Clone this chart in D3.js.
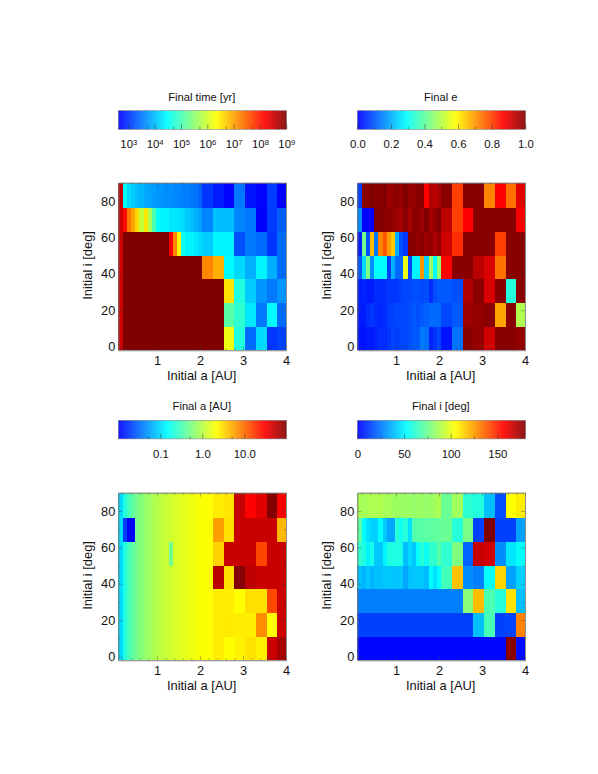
<!DOCTYPE html>
<html>
<head>
<meta charset="utf-8">
<script src="https://cdn.jsdelivr.net/npm/d3@7"></script>
<style>
body { margin: 0; background: #fff; }
text { font-family: "Liberation Sans", Arial, sans-serif; fill: #111; }
</style>
</head>
<body>
<div id="chart"></div>
<script>
// grid of the runs: initial a [AU] and initial i [deg] cell edges
var aEdges = [0.1,0.2,0.3,0.39,0.49,0.59,0.69,0.78,0.88,0.98,1.08,1.17,1.27,1.37,1.47,1.56,1.66,1.76,1.86,1.95,2.05,2.3,2.55,2.8,3.05,3.3,3.55,3.8,4.0];
var iEdges = [90,76,63,50,37,24,11,-2];

// every row runs top (high i) to bottom (low i)
var timeLog = [
  [8.55,4.46,4.2,4.1,4.0,3.95,3.85,3.8,3.75,3.7,3.7,3.65,3.65,3.6,3.6,3.55,3.55,3.5,3.45,3.35,3.0,2.8,2.65,3.5,2.75,2.65,3.05,2.6],
  [8.5,8.1,7.3,7.0,6.6,5.9,6.5,5.7,5.0,4.5,4.4,4.4,4.3,4.3,4.25,4.2,4.1,4.0,3.9,3.8,3.6,4.0,4.0,3.6,3.5,2.6,3.05,3.3],
  [8.5,9,9,9,9,9,9,9,9,9,9,9,8.2,7.2,6.4,4.6,4.4,4.4,4.3,4.2,4.1,4.4,4.4,3.2,3.5,3.4,3.0,3.4],
  [8.5,9,9,9,9,9,9,9,9,9,9,9,9,9,9,9,9,9,9,9,7.2,6.9,4.45,4.2,3.9,4.4,3.9,3.4],
  [8.5,9,9,9,9,9,9,9,9,9,9,9,9,9,9,9,9,9,9,9,9,9,6.5,4.7,4.1,3.7,3.5,3.7],
  [8.5,9,9,9,9,9,9,9,9,9,9,9,9,9,9,9,9,9,9,9,9,9,5.1,4.8,4.3,3.5,4.45,3.4],
  [8.5,9,9,9,9,9,9,9,9,9,9,9,9,9,9,9,9,9,9,9,9,9,6.2,4.7,3.4,4.2,3.0,3.1]
];
var finalE = [
  [.07,.99,.99,1,.99,.99,1,.97,.98,.99,.98,1,.98,.98,.99,.99,.87,.95,.94,.96,.99,.8,.99,.99,.72,.87,.74,.9],
  [.16,0,0,0,1,1,.99,.99,.98,.97,.96,.99,.96,.99,.99,.97,1,.96,.98,1,.94,.8,.87,.99,.99,.99,.99,.88],
  [.03,.42,.09,.66,.14,.72,.77,.69,.64,.2,.09,.06,.99,.99,.98,.99,.97,.98,.95,.98,.92,.82,.99,.99,.99,.8,.99,.99],
  [.10,.25,.43,.16,.29,.29,.29,.07,.2,.12,.12,.56,.08,.28,.28,.7,.24,.47,.29,.45,.87,.99,.99,.94,.91,.74,.99,.99],
  [.03,.04,.03,.03,.05,.05,.05,.06,.06,.06,.07,.08,.08,.09,.09,.08,.09,.05,.09,.1,.1,.09,.95,.99,.91,.99,.33,.99],
  [.03,.03,.05,.06,.05,.04,.05,.07,.07,.08,.08,.08,.09,.1,.09,.1,.11,.12,.12,.12,.08,.1,.97,.98,.99,.68,.99,.49],
  [.02,.02,.03,.03,.04,.05,.05,.06,.08,.07,.08,.08,.09,.1,.1,.14,.13,.04,.06,.08,.02,.13,.99,.98,.92,.99,.99,.98]
];
var finalA = [
  [.1,.2,.3,.39,.49,.59,.69,.78,.88,.98,1.08,1.17,1.27,1.37,1.47,1.56,1.66,1.76,1.86,1.95,2.05,2.5,2.75,52,30,40,95,32],
  [.1,.019,.01,.01,.49,.59,.69,.78,.88,.98,1.08,1.17,1.27,1.37,1.47,1.56,1.66,1.76,1.86,1.95,2.05,5.8,2.9,50,50,50,50,4.4],
  [.1,.2,.3,.39,.49,.59,.69,.78,.88,.98,1.08,1.17,.48,1.37,1.47,1.56,1.66,1.76,1.86,1.95,2.05,3.3,50,50,50,14.5,50,50],
  [.1,.2,.3,.39,.49,.59,.69,.78,.88,.98,1.08,1.17,1.27,1.37,1.47,1.56,1.66,1.76,1.86,1.95,2.05,58,2.9,95,55,50,50,50],
  [.1,.2,.3,.39,.49,.59,.69,.78,.88,.98,1.08,1.17,1.27,1.37,1.47,1.56,1.66,1.76,1.86,1.95,2.05,2.5,2.5,2.1,2.9,2.9,14,50],
  [.1,.2,.3,.39,.49,.59,.69,.78,.88,.98,1.08,1.17,1.27,1.37,1.47,1.56,1.66,1.76,1.86,1.95,2.05,2.5,2.6,2.5,2.5,7,2.1,50],
  [.1,.2,.3,.39,.49,.59,.69,.78,.88,.98,1.08,1.17,1.27,1.37,1.47,1.56,1.66,1.76,1.86,1.95,2.05,2.5,2.1,2.4,2.8,2.4,50,70]
];
var finalI = [
  [87,86,87,88,87,88,86,87,85,84,84,84,84,83,84,84,83,84,85,88,74,85,61,59,39,16,104,108],
  [71,52,46,43,43,52,41,34,34,60,55,60,46,69,70,70,71,71,72,72,74,60,77,13,180,13,13,33],
  [62,58,50,56,41,41,50,58,58,58,58,39,45,41,53,60,55,62,62,70,62,78,20,167,165,29,47,53],
  [39,37,41,37,39,39,41,41,41,40,41,34,40,41,41,41,38,52,46,52,66,117,29,26,53,113,33,43],
  [26,26,26,26,26,26,26,26,26,26,26,26,26,26,26,26,26,26,26,26,26,26,80,118,68,60,110,39],
  [13,13,13,13,13,13,13,13,13,13,13,13,13,13,13,13,13,13,13,13,13,13,13,39,67,13,14,130],
  [1,1,1,1,1,1,1,1,1,1,1,1,1,1,1,1,1,1,1,1,1,1,1,1,1,1,178,2]
];

var xTicks = [1,2,3,4];
var yTicks = [0,20,40,60,80];
var xMinor = [0.2,0.4,0.6,0.8,1.2,1.4,1.6,1.8,2.2,2.4,2.6,2.8,3.2,3.4,3.6,3.8];
var yMinor = [10,30,50,70];

var timeTicks = [1e3,1e4,1e5,1e6,1e7,1e8,1e9];
var timeMinor = [5e3,5e4,5e5,5e6,5e7,5e8];
var eTicks = [0,0.2,0.4,0.6,0.8,1.0];
var eMinor = [0.1,0.3,0.5,0.7,0.9];
var aTicks = [0.1,1,10];
var aMinor = [0.05,0.5,5];
var incTicks = [0,50,100,150];
var incMinor = [25,75,125,175];

var colorStops = [0,0.29,0.58,0.87,1];
var colorRange = ["#0000ff","#00ffff","#ffff00","#ff0000","#800000"];

var cmap = d3.scaleLinear().domain(colorStops).range(colorRange).interpolate(d3.interpolateRgb);

var svg = d3.select("#chart").append("svg")
	.attr("width", 598)
	.attr("height", 774);

// pow10 so the time grid reads as years on the same scale as its bar
var panels = [
	{title: "Final time [yr]", values: timeLog.map(r => r.map(v => Math.pow(10, v))), scale: d3.scaleLog().domain([Math.pow(10,2.62),1e9]), ticks: timeTicks, minor: timeMinor, fmt: null, left: 118.3, top: 182.7, barTop: 110.7},
	{title: "Final e", values: finalE, scale: d3.scaleLinear().domain([0,1]), ticks: eTicks, minor: eMinor, fmt: d3.format(".1f"), left: 357.3, top: 182.7, barTop: 110.7},
	{title: "Final a [AU]", values: finalA, scale: d3.scaleLog().domain([0.01,100]), ticks: aTicks, minor: aMinor, fmt: d3.format(".1f"), left: 118.3, top: 492.7, barTop: 420.3},
	{title: "Final i [deg]", values: finalI, scale: d3.scaleLinear().domain([0,180]), ticks: incTicks, minor: incMinor, fmt: d3.format("d"), left: 357.3, top: 492.7, barTop: 420.3}
];

var plotW = 167.7, plotH = 167.5, barW = 168, barH = 18.6;

panels.forEach(function(p) {
	drawBar(p);
	drawGrid(p);
});

function drawBar(p) {
	var g = svg.append("g").attr("transform", "translate(" + p.left + "," + p.barTop + ")");
	var barScale = p.scale.copy().range([0, barW]);

	g.append("text")
		.attr("x", barW / 2 - 0.5)
		.attr("y", -10)
		.attr("text-anchor", "middle")
		.style("font-size", "11.2px")
		.text(p.title);

	var steps = d3.range(0, barW, 1);
	g.selectAll(".bar")
		.data(steps)
		.enter().append("rect")
		.attr("x", d => d)
		.attr("y", 0)
		.attr("width", 1.4)
		.attr("height", barH)
		.attr("fill", d => cmap(d / barW));

	g.append("rect")
		.attr("width", barW).attr("height", barH)
		.attr("fill", "none").attr("stroke", "#888").attr("stroke-width", 0.6);

	var axis = d3.axisBottom(barScale)
		.tickValues(p.ticks)
		.tickSizeOuter(0)
		.tickSizeInner(-5)
		.tickPadding(11);
	if (p.fmt) axis.tickFormat(p.fmt);
	else axis.tickFormat(d => "10");

	var ag = g.append("g").attr("transform", "translate(0," + barH + ")").call(axis);
	ag.select(".domain").remove();
	ag.selectAll(".tick line").attr("stroke", "#333").attr("stroke-width", 0.5);
	ag.selectAll("text").style("font-size", "11.4px").attr("fill", "#111");

	// exponents for the time bar
	if (!p.fmt) {
		ag.selectAll(".tick text").append("tspan")
			.attr("dy", "-0.45em")
			.style("font-size", "7.6px")
			.text(d => Math.round(Math.log10(d)));
	}

	var minorAxis = d3.axisBottom(barScale)
		.tickValues(p.minor)
		.tickSizeOuter(0)
		.tickSizeInner(-2.5)
		.tickFormat("");
	var mg = g.append("g").attr("transform", "translate(0," + barH + ")").call(minorAxis);
	mg.select(".domain").remove();
	mg.selectAll(".tick line").attr("stroke", "#333").attr("stroke-width", 0.5);
}

function drawGrid(p) {
	var g = svg.append("g").attr("transform", "translate(" + p.left + "," + p.top + ")");
	var x = d3.scaleLinear().domain([0.1, 4]).range([0, plotW]);
	var y = d3.scaleLinear().domain([90, -2]).range([0, plotH]);
	var c = p.scale.copy().range([0, 1]);

	p.values.forEach(function(row, r) {
		g.selectAll(".r" + r)
			.data(row)
			.enter().append("rect")
			.attr("class", "r" + r)
			.attr("x", (d, k) => x(aEdges[k]))
			.attr("y", y(iEdges[r]))
			.attr("width", (d, k) => x(aEdges[k + 1]) - x(aEdges[k]))
			.attr("height", y(iEdges[r + 1]) - y(iEdges[r]))
			.attr("shape-rendering", "crispEdges")
			.attr("fill", d => cmap(Math.max(0, Math.min(1, c(d)))));
	});

	var bottom = d3.axisBottom(x).tickValues(xTicks).tickSizeInner(-4).tickSizeOuter(0).tickPadding(6).tickFormat(d3.format("d"));
	var left = d3.axisLeft(y).tickValues(yTicks).tickSizeInner(-4).tickSizeOuter(0).tickPadding(3).tickFormat(d3.format("d"));
	var top = d3.axisTop(x).tickValues(xTicks).tickSizeInner(-4).tickSizeOuter(0).tickFormat("");
	var right = d3.axisRight(y).tickValues(yTicks).tickSizeInner(-4).tickSizeOuter(0).tickFormat("");
	var bottomMinor = d3.axisBottom(x).tickValues(xMinor).tickSizeInner(-2).tickSizeOuter(0).tickFormat("");
	var topMinor = d3.axisTop(x).tickValues(xMinor).tickSizeInner(-2).tickSizeOuter(0).tickFormat("");
	var leftMinor = d3.axisLeft(y).tickValues(yMinor).tickSizeInner(-2).tickSizeOuter(0).tickFormat("");
	var rightMinor = d3.axisRight(y).tickValues(yMinor).tickSizeInner(-2).tickSizeOuter(0).tickFormat("");

	[[bottom, 0, plotH], [bottomMinor, 0, plotH], [top, 0, 0], [topMinor, 0, 0], [left, 0, 0], [leftMinor, 0, 0], [right, plotW, 0], [rightMinor, plotW, 0]].forEach(function(a) {
		var ag = g.append("g").attr("transform", "translate(" + a[1] + "," + a[2] + ")").call(a[0]);
		ag.select(".domain").attr("stroke", "#777").attr("stroke-width", 0.6);
		ag.selectAll(".tick line").attr("stroke", "#444").attr("stroke-width", 0.4);
		ag.selectAll("text").style("font-size", "12.8px").attr("fill", "#111");
	});

	g.append("text")
		.attr("x", plotW / 2 - 0.5)
		.attr("y", plotH + 30)
		.attr("text-anchor", "middle")
		.style("font-size", "12.9px")
		.text("Initial a [AU]");

	g.append("text")
		.attr("transform", "translate(-26.5," + (plotH / 2 - 1) + ") rotate(-90)")
		.attr("text-anchor", "middle")
		.style("font-size", "12.9px")
		.text("Initial i [deg]");
}
</script>
</body>
</html>
